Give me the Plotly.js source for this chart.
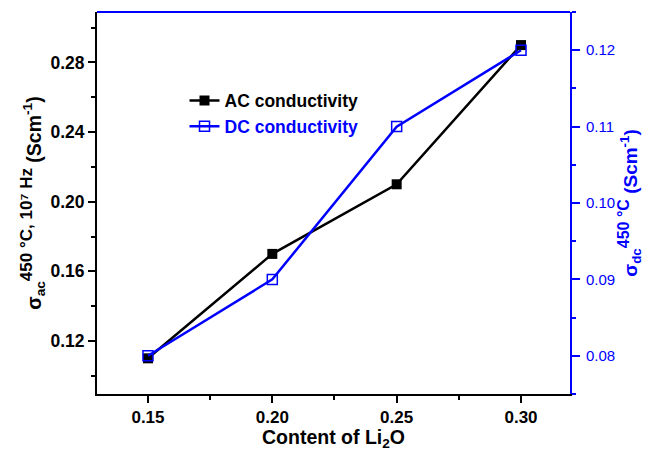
<!DOCTYPE html>
<html><head><meta charset="utf-8">
<script src="https://cdn.plot.ly/plotly-3.0.1.min.js"></script>
<style>html,body{margin:0;padding:0;background:#fff}#c{width:648px;height:450px}</style>
</head><body><div id="c"></div>
<script>
const li2o = [0.15, 0.20, 0.25, 0.30];
const acConductivity = [0.110, 0.170, 0.210, 0.290];
const dcConductivity = [0.080, 0.090, 0.110, 0.120];
const xTicks = [0.15, 0.20, 0.25, 0.30];
const yLeftTicks = [0.12, 0.16, 0.20, 0.24, 0.28];
const yRightTicks = [0.08, 0.09, 0.10, 0.11, 0.12];

const F = 'Liberation Sans, Arial, sans-serif';
const traces = [
  {x: li2o, y: acConductivity, name: '<b>AC conductivity</b>', type: 'scatter', mode: 'lines+markers',
   line: {color: '#000', width: 2.5}, marker: {symbol: 'square', size: 10, color: '#000'}},
  {x: li2o, y: dcConductivity, name: '<b><span style="color:#0000ff">DC conductivity</span></b>', type: 'scatter', mode: 'lines+markers', yaxis: 'y2',
   line: {color: '#0000ff', width: 2.5}, marker: {symbol: 'square-open', size: 10, color: '#0000ff', line: {width: 1.5}}}
];
const layout = {
  width: 648, height: 450,
  margin: {l: 97, r: 78, t: 12, b: 56},
  paper_bgcolor: '#fff', plot_bgcolor: '#fff',
  font: {family: F, size: 18, color: '#000'},
  showlegend: true,
  legend: {x: 0.185, y: 0.815, xanchor: 'left', yanchor: 'top', bgcolor: 'rgba(0,0,0,0)',
    font: {family: F, size: 17.5, color: '#000'}, itemwidth: 30, tracegroupgap: 0},
  xaxis: {range: [0.1295, 0.3197], tickvals: xTicks, ticktext: xTicks.map(v => '<b>' + v.toFixed(2) + '</b>'),
    showgrid: false, zeroline: false, showline: true, linecolor: '#000', linewidth: 2,
    ticks: 'outside', ticklen: 7, tickwidth: 2, tickcolor: '#000',
    minor: {ticks: 'outside', ticklen: 4, tickwidth: 2, tickcolor: '#000', dtick: 0.025, tick0: 0.15},
    tickfont: {family: F, size: 17, color: '#000'}},
  annotations: [
    {text: '<b>Content of Li<sub>2</sub>O</b>', xref: 'paper', yref: 'paper', x: 0.5, y: -0.117,
     xanchor: 'center', yanchor: 'middle', showarrow: false, font: {family: F, size: 19.5, color: '#000'}}
  ],
  yaxis: {range: [0.0895, 0.309], tickvals: yLeftTicks, ticktext: yLeftTicks.map(v => '<b>' + v.toFixed(2) + '</b>'),
    showgrid: false, zeroline: false, showline: true, linecolor: '#000', linewidth: 2,
    ticks: 'outside', ticklen: 7, tickwidth: 2, tickcolor: '#000',
    minor: {ticks: 'outside', ticklen: 4, tickwidth: 2, tickcolor: '#000', dtick: 0.02, tick0: 0.10},
    tickfont: {family: F, size: 17.5, color: '#000'},
    title: {text: '<b>σ<sub>ac</sub><sup><span style="font-size:17px">450 °C, 10⁷ Hz</span></sup> (Scm<sup>-1</sup>)</b>',
      font: {family: F, size: 19.5, color: '#000'}, standoff: 4}},
  yaxis2: {range: [0.075, 0.125], overlaying: 'y', side: 'right', tickvals: yRightTicks,
    ticktext: yRightTicks.map(v => v.toFixed(2)),
    showgrid: false, zeroline: false, showline: true, linecolor: '#0000ff', linewidth: 2,
    ticks: 'outside', ticklen: 8, tickwidth: 2, tickcolor: '#0000ff', ticklabelstandoff: 3,
    minor: {ticks: 'outside', ticklen: 4, tickwidth: 2, tickcolor: '#0000ff', dtick: 0.005, tick0: 0.075},
    tickfont: {family: F, size: 15, color: '#0000ff'},
    title: {text: '<b>σ<sub>dc</sub><sup><span style="font-size:16px">450 °C</span></sup> (Scm<sup>-1</sup>)</b>', font: {family: F, size: 19, color: '#0000ff'}, standoff: 6}},
  shapes: [
    {type: 'line', xref: 'paper', yref: 'paper', x0: 0, x1: 1, y0: 1, y1: 1, line: {color: '#0000ff', width: 2}}
  ]
};
Plotly.newPlot('c', traces, layout, {displayModeBar: false, staticPlot: true});
</script></body></html>
